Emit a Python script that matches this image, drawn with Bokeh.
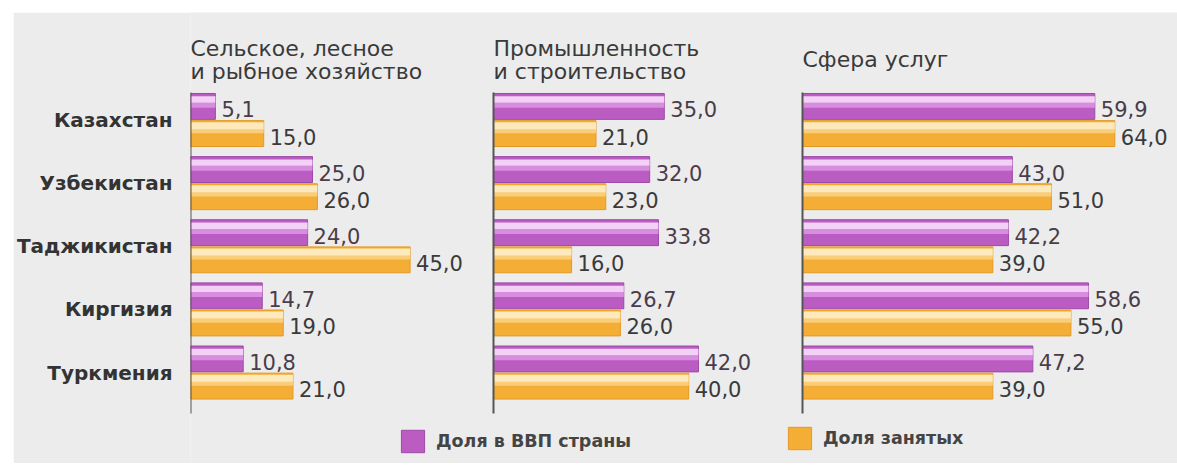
from bokeh.plotting import figure
from bokeh.models import ColumnDataSource, Range1d, FixedTicker, Legend, LegendItem, Spacer
from bokeh.layouts import row, column
from bokeh.transform import dodge
from bokeh.core.properties import value
from bokeh.embed import file_html
from bokeh.resources import INLINE

# ---------------- data ----------------
countries = ["Казахстан", "Узбекистан", "Таджикистан", "Киргизия", "Туркмения"]
title_agri = ["Сельское, лесное", "и рыбное хозяйство"]
title_ind = ["Промышленность", "и строительство"]
title_serv = ["Сфера услуг"]
gdp_agri = [5.1, 25.0, 24.0, 14.7, 10.8]
emp_agri = [15.0, 26.0, 45.0, 19.0, 21.0]
gdp_ind = [35.0, 32.0, 33.8, 26.7, 42.0]
emp_ind = [21.0, 23.0, 16.0, 26.0, 40.0]
gdp_serv = [59.9, 43.0, 42.2, 58.6, 47.2]
emp_serv = [64.0, 51.0, 39.0, 55.0, 39.0]
legend_labels = ["Доля в ВВП страны", "Доля занятых"]

# ---------------- style / layout (page pixels) ----------------
BG = "#ececec"
P_BASE, P_MID, P_HI, P_LINE = "#bb5cc3", "#d78ede", "#f3d0f6", "#9c4aa6"
O_BASE, O_MID, O_HI, O_LINE = "#f4ad35", "#f9cd7a", "#fde9bb", "#e39a22"
FONT = "DejaVu Sans"
PAD_L, PAD_T = 13, 12          # white margin around the grey panel
W, H = 1164, 451               # figure size
FRAME_LEFT_PX = 190            # page x of the first panel's zero line
PX_PER_UNIT = 4.88             # horizontal px per percent
ROW_PITCH = 63.13              # vertical px per country row
FIRST_ROW_PX = 119.5           # page y of first row centre
AXIS_TOP_PX, AXIS_BOTTOM_PX = 92, 413
PANEL_SHIFT = {"agri": 0, "ind": 303, "serv": 612}
TITLE_BASE_PX = [48, 71]
TITLE_SINGLE_PX = 59
OFF = 0.215
BAR_H = 0.41
# (shift from bar centre, height) of the shading bands, in row units
P_BANDS = [(-0.02, 0.08, P_MID), (-0.11, 0.10, P_HI)]
O_BANDS = [(-0.04, 0.07, O_MID), (-0.125, 0.11, O_HI)]

BORDER_L = FRAME_LEFT_PX - PAD_L
FRAME_W = W - BORDER_L
Y_TOP = -(FIRST_ROW_PX - PAD_T) / ROW_PITCH
Y_BOTTOM = Y_TOP + H / ROW_PITCH


def py(px):
    """page pixel y -> data y"""
    return Y_TOP + (px - PAD_T) / ROW_PITCH


def fmt(v):
    return f"{v:.1f}".replace(".", ",")


p = figure(
    output_backend="svg", toolbar_location=None,
    width=W, height=H,
    min_border_left=BORDER_L, min_border_right=0, min_border_top=0, min_border_bottom=0,
    x_range=Range1d(0, FRAME_W / PX_PER_UNIT),
    y_range=Range1d(Y_BOTTOM, Y_TOP),
    x_axis_location=None, y_axis_location="left",
    background_fill_color=BG, border_fill_color=BG,
    outline_line_color=None,
)
p.grid.visible = False
for name in ("ind", "serv"):
    s = -PANEL_SHIFT[name] / PX_PER_UNIT
    p.extra_x_ranges[name] = Range1d(s, s + FRAME_W / PX_PER_UNIT)

yr = p.y_range
legend_renderers = []
panels = [("agri", gdp_agri, emp_agri, title_agri),
          ("ind", gdp_ind, emp_ind, title_ind),
          ("serv", gdp_serv, emp_serv, title_serv)]
for name, gdp, emp, tlines in panels:
    rn = "default" if name == "agri" else name
    src = ColumnDataSource(dict(
        idx=list(range(len(countries))),
        gdp=gdp, emp=emp,
        gdp_lbl=[fmt(v) for v in gdp],
        emp_lbl=[fmt(v) for v in emp],
    ))
    rp = p.hbar(y=dodge("idx", -OFF, range=yr), left=0, right="gdp", height=BAR_H, source=src,
                fill_color=P_BASE, line_color=P_LINE, line_width=1, x_range_name=rn)
    for sh, hh, col in P_BANDS:
        p.hbar(y=dodge("idx", -OFF + sh, range=yr), left=0, right="gdp", height=hh, source=src,
               fill_color=col, line_color=None, x_range_name=rn)
    ro = p.hbar(y=dodge("idx", OFF, range=yr), left=0, right="emp", height=BAR_H, source=src,
                fill_color=O_BASE, line_color=O_LINE, line_width=1, x_range_name=rn)
    for sh, hh, col in O_BANDS:
        p.hbar(y=dodge("idx", OFF + sh, range=yr), left=0, right="emp", height=hh, source=src,
               fill_color=col, line_color=None, x_range_name=rn)
    if name == "agri":
        legend_renderers = [rp, ro]
    p.text(x="gdp", y=dodge("idx", -OFF, range=yr), text="gdp_lbl", source=src,
           x_offset=6, y_offset=3, text_baseline="middle", text_align="left",
           text_font=value(FONT), text_font_size="21px", text_color="#4a3c4a", x_range_name=rn)
    p.text(x="emp", y=dodge("idx", OFF, range=yr), text="emp_lbl", source=src,
           x_offset=6, y_offset=3, text_baseline="middle", text_align="left",
           text_font=value(FONT), text_font_size="21px", text_color="#3a3a3a", x_range_name=rn)
    # panel zero line (axis)
    p.segment(x0=[0], x1=[0], y0=[py(AXIS_TOP_PX)], y1=[py(AXIS_BOTTOM_PX)],
              line_color="#555555", line_width=2, x_range_name=rn)
    # panel title
    bases = TITLE_BASE_PX if len(tlines) == 2 else [TITLE_SINGLE_PX]
    p.text(x=[0] * len(tlines), y=[py(b) for b in bases], text=tlines,
           text_font=value(FONT), text_font_size="22px", text_color="#3a3a3a",
           text_baseline="alphabetic", text_align="left", x_range_name=rn)

# country axis
ax = p.yaxis[0]
ax.ticker = FixedTicker(ticks=list(range(len(countries))))
ax.major_label_overrides = {i: c for i, c in enumerate(countries)}
ax.major_tick_line_color = None
ax.minor_tick_line_color = None
ax.axis_line_color = None
ax.major_label_standoff = 12
ax.major_label_text_font = FONT
ax.major_label_text_font_style = "bold"
ax.major_label_text_font_size = "20px"
ax.major_label_text_color = "#333333"

# legend inside the grey strip at the bottom of the frame
frame_bottom_px = PAD_T + H
for r, lbl, (lx, lb) in [(legend_renderers[0], legend_labels[0], (398, 455)),
                         (legend_renderers[1], legend_labels[1], (785, 452))]:
    lg = Legend(items=[LegendItem(label=lbl, renderers=[r])],
                location=(lx - FRAME_LEFT_PX, frame_bottom_px - lb),
                glyph_width=29, glyph_height=28, padding=0, margin=0, label_standoff=9,
                border_line_color=None, background_fill_alpha=0,
                label_text_font=FONT, label_text_font_style="bold",
                label_text_font_size="17.5px", label_text_color="#444444")
    p.add_layout(lg)

layout = column(Spacer(height=PAD_T), row(Spacer(width=PAD_L), p))
open("out.html", "w").write(file_html(layout, INLINE))
